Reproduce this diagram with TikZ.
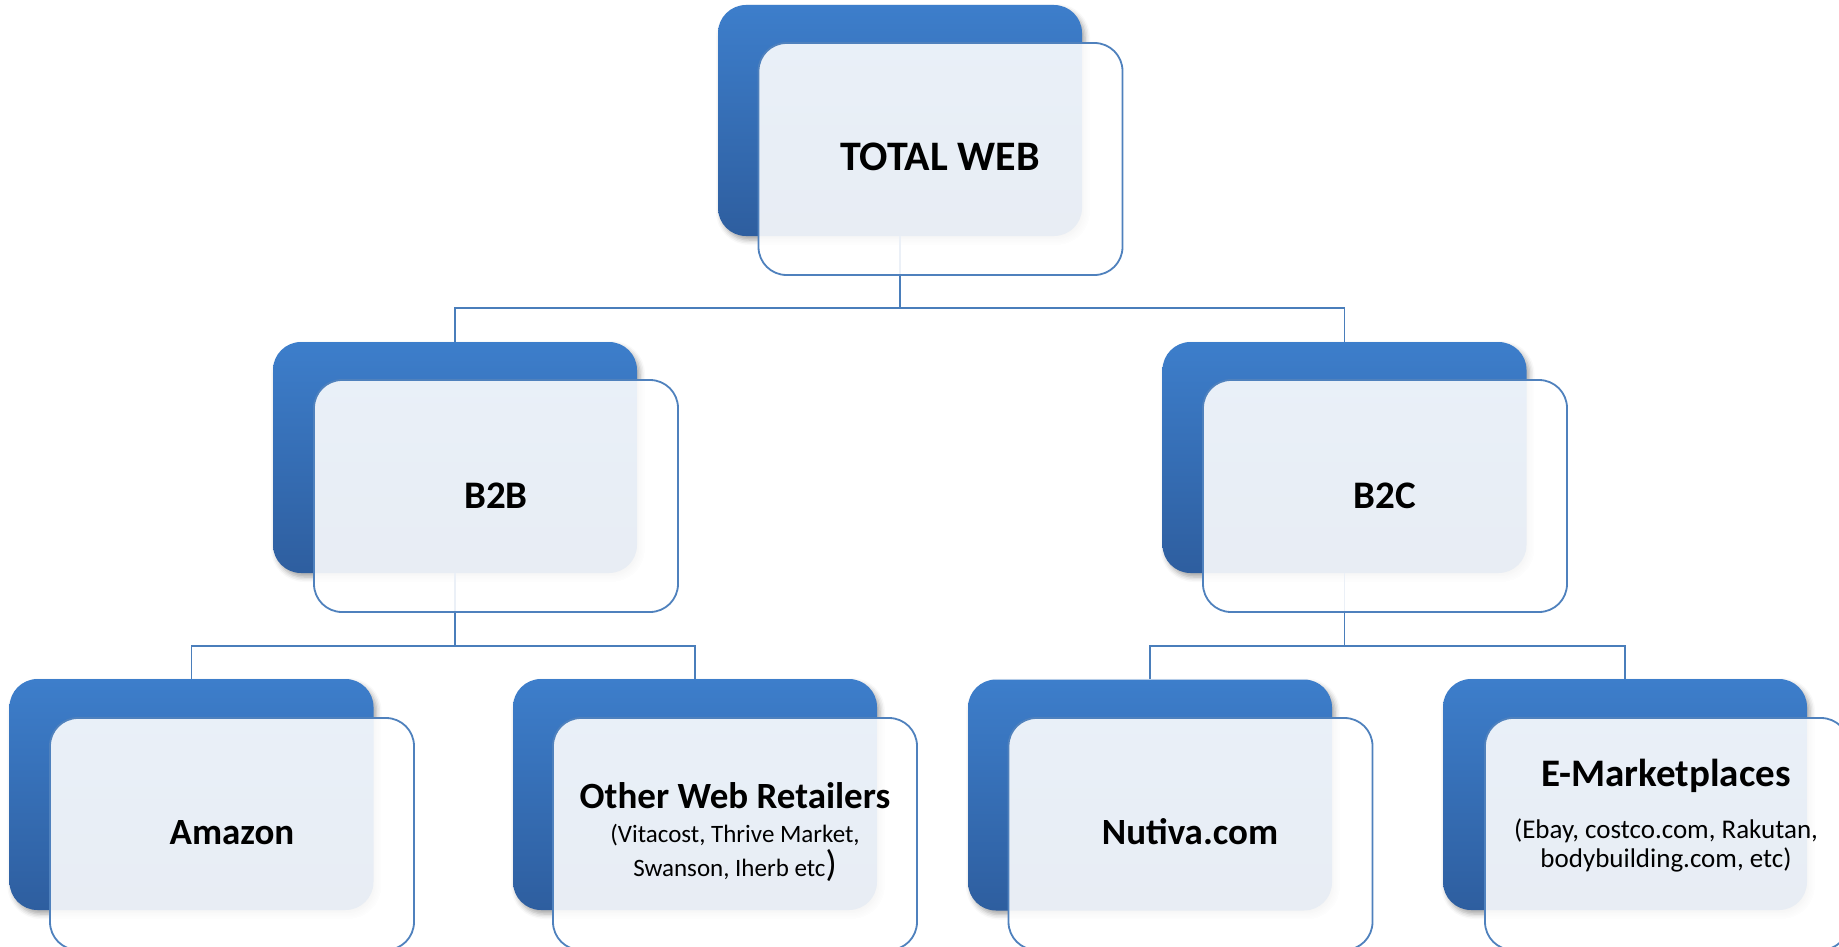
\documentclass[tikz,border=0pt]{standalone}
\usepackage{fontspec}
\setmainfont{Carlito}
\usetikzlibrary{shadows.blur}
\definecolor{bluetop}{HTML}{3D7ECB}
\definecolor{bluebot}{HTML}{2E5E9F}
\definecolor{edgeblue}{HTML}{4F81BD}
\definecolor{linkblue}{HTML}{4A7EBB}
\tikzset{
  backbox/.style={rectangle, rounded corners=28pt, minimum width=364pt, minimum height=231pt,
    inner sep=0pt, top color=bluetop, bottom color=bluebot, draw=none,
    blur shadow={shadow xshift=3pt, shadow yshift=-4pt, shadow opacity=35, shadow blur radius=5pt}},
  frontbox/.style={rectangle, rounded corners=28pt, minimum width=364pt, minimum height=232pt,
    inner sep=0pt, draw=edgeblue, line width=1.8pt, fill=white, fill opacity=0.89},
  link/.style={draw=linkblue, line width=1.8pt},
  txt/.style={anchor=base, inner sep=0pt, text=black},
  ttop/.style={txt, font=\bfseries\fontsize{42}{48}\selectfont},
  tmid/.style={txt, font=\bfseries\fontsize{39}{46}\selectfont},
  tlow/.style={txt, font=\bfseries\fontsize{37}{44}\selectfont},
  tsmall/.style={txt, font=\fontsize{25}{30}\selectfont},
  tsmaller/.style={txt, font=\fontsize{27}{30}\selectfont},
}
\begin{document}
\begin{tikzpicture}[x=1pt, y=-1pt]
\useasboundingbox (0,0) rectangle (1839,947);
% back boxes
\node[backbox] (topB) at (900,120.5) {};
\node[backbox] (b2bB) at (455,457.5) {};
\node[backbox] (b2cB) at (1344.5,457.5) {};
\node[backbox] (amB) at (191.5,794.5) {};
\node[backbox] (owB) at (695,794.5) {};
\node[backbox] (nuB) at (1150,795) {};
\node[backbox] (emB) at (1625,794.5) {};
% connectors
\coordinate (j1) at (900,308);
\coordinate (j2) at (455,646);
\coordinate (j3) at (1344.5,646);
\draw[link] (topB.south) -- (j1) -| (b2bB.north);
\draw[link] (j1) -| (b2cB.north);
\draw[link] (b2bB.south) -- (j2) -| (amB.north);
\draw[link] (j2) -| (owB.north);
\draw[link] (b2cB.south) -- (j3) -| (nuB.north);
\draw[link] (j3) -| (emB.north);
% front boxes
\node[frontbox] (topF) at (940.5,159) {};
\node[frontbox] (b2bF) at (496,496) {};
\node[frontbox] (b2cF) at (1385,496) {};
\node[frontbox] (amF) at (232,834) {};
\node[frontbox] (owF) at (735,834) {};
\node[frontbox] (nuF) at (1190.5,834) {};
\node[frontbox] (emF) at (1667,834) {};
% texts
\node[ttop] (tTW) at (940,171) {TOTAL WEB};
\node[tmid] (tB2B) at (496,508) {B2B};
\node[tmid] (tB2C) at (1385,508) {B2C};
\node[tlow] (tAm) at (232,844) {Amazon};
\node[tlow] (tNu) at (1190,844) {Nutiva.com};
\node[tlow] (tOW) at (735,808) {Other Web Retailers};
\node[tsmall] (tOW2) at (735,842) {(Vitacost, Thrive Market,};
\node[tsmall] (tOW3) at (735,876) {Swanson, Iherb etc{\fontsize{37}{44}\selectfont)}};
\node[tmid] (tEM) at (1666,786) {E-Marketplaces};
\node[tsmaller] (tEM2) at (1666,838) {(Ebay, costco.com, Rakutan,};
\node[tsmaller] (tEM3) at (1666,867) {bodybuilding.com, etc)};
\end{tikzpicture}
\end{document}
